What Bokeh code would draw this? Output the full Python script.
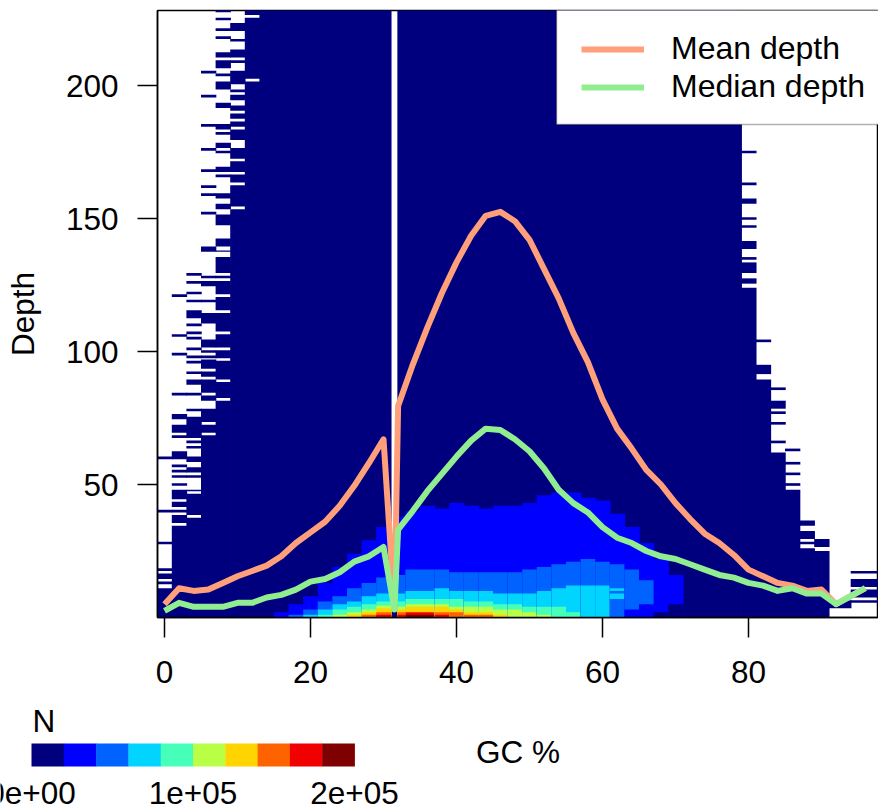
from bokeh.embed import file_html
from bokeh.resources import INLINE
from bokeh.plotting import figure
from bokeh.models import (ColumnDataSource, FixedTicker, Range1d, Legend, LegendItem,
                          BoxAnnotation, Label)

FONT = "Liberation Sans"
FS = "31.5px"

# ---------- data ----------
palette = ["#00007F", "#0000FF", "#0063FF", "#00D4FF", "#46FFB8",
           "#B8FF46", "#FFD400", "#FF6300", "#F10000", "#7F0000"]
key_breaks = [0, 20000, 40000, 60000, 80000, 100000, 120000, 140000, 160000, 180000, 200000]
key_ticks = [0, 100000, 200000]
key_tick_labels = ["0e+00", "1e+05", "2e+05"]
x_ticks = [0, 20, 40, 60, 80]
y_ticks = [50, 100, 150, 200]

mean_gc = [0, 2, 4, 6, 8, 10, 12, 14, 16, 18, 20, 22, 24, 26, 28, 30, 31.5, 32, 34, 36, 38, 40, 42, 44, 46,
           48, 50, 52, 54, 56, 58, 60, 62, 64, 66, 68, 70, 72, 74, 76, 78, 80, 82, 84, 86, 88, 90, 92, 96]
mean_depth = [5, 11, 10, 10.5, 13, 15.5, 17.5, 19.5, 23, 28, 32, 36, 42, 49.5, 58, 67, 4, 79.5, 95, 109, 122,
              133.5, 143.5, 151, 152.5, 149, 142, 131, 120, 107, 96, 82, 71, 63.5, 55.5, 50, 43, 37, 31.5, 28,
              23.5, 18, 15.5, 13, 12, 10, 10.5, 5, 11]
median_depth = [2.5, 5.5, 4, 4, 4, 5.5, 5.5, 7.5, 8.5, 10.5, 13.5, 14.5, 17, 21, 23, 26.5, 3, 33, 40, 47.5, 54,
                60.5, 66.5, 71, 70.5, 67, 62.5, 56, 48, 43, 39.5, 34, 30, 28, 25, 23, 22, 20, 18, 16, 15, 13, 12,
                10, 11, 9, 9, 5, 11]

# Navy (lowest class) cells: (left, right, isolated rows, contiguous up to, rows missing below that)
navy_columns = [
    (-1, 1, [60, 40, 28, 18, 16, 15, 13], 11, []),
    (1, 3, [121, 106, 99, 84, 76, 75, 72, 71, 70, 68, 62, 61, 60, 57, 55, 53, 50], 48, [44, 41, 39, 35]),
    (3, 5, [129, 126, 122, 119, 115, 114, 113, 110, 107, 105, 101, 98, 96, 92, 89, 88, 84, 78, 75, 74, 73, 72, 71,
            70, 69, 68, 66, 64, 60, 59, 56, 55, 53], 48, [47, 38]),
    (5, 7, [205, 196, 185, 176, 168, 162, 159, 152, 139, 138, 128, 126, 125, 119, 114, 113, 112, 111, 104, 103,
            102, 100, 98], 97, [93, 90, 84, 81, 80, 79, 73, 69]),
    (7, 9, [228, 225, 221, 218, 212, 211, 209, 208, 207, 204, 201, 200, 199, 193, 192, 185, 184, 182, 178, 177,
            175, 169, 168, 166, 159, 158, 155, 154, 151, 150, 149, 148, 142, 141, 140], 138,
     [137, 136, 129, 127, 121, 115, 107, 101, 97, 89, 82]),
    (9, 11, [], 229, [228, 227, 226, 225, 224, 220, 219, 218, 216, 215, 214, 210, 208, 207, 206, 200, 199, 197,
                      194, 193, 190, 187, 184, 179, 178, 177, 172, 167, 163, 154]),
    (11, 13, [], 229, [226, 202]),
    (13, 31, [], 229, []),
    (31, 31.9, [], 4.5, []),
    (31.9, 79, [], 229, []),
    (79, 81, [175, 163, 157, 156, 150, 147, 141, 140, 139, 135, 133, 132, 131, 130, 127, 126], 124, []),
    (81, 83, [104], 95, [91, 90]),
    (83, 85, [86, 81, 80, 79, 77, 73, 66], 62, []),
    (85, 87, [63, 58, 54, 50], 48, []),
    (87, 89, [36, 35, 32, 31, 30, 28], 26, []),
    (89, 91, [29, 28, 27], 25, []),
    (91, 94, [6, 5, 4], 0, []),
    (94, 99, [17, 14, 13, 12, 10, 9, 8, 6], 0, []),
]

# Other classes, per GC bin, bottom to top: (class, depth reached)
stacks = [
    (15, 17, [(1, 2)]),
    (17, 19, [(2, 1), (1, 5)]),
    (19, 21, [(3, 1), (2, 3), (1, 8)]),
    (21, 23, [(4, 1), (3, 3), (2, 6), (1, 13)]),
    (23, 25, [(5, 1), (4, 3), (3, 5), (2, 8), (1, 19)]),
    (25, 27, [(6, 1), (5, 2), (4, 4), (3, 6), (2, 11), (1, 24)]),
    (27, 29, [(7, 1), (6, 2), (5, 3), (4, 5), (3, 8), (2, 13), (1, 29)]),
    (29, 31, [(8, 1), (7, 2), (6, 3.5), (5, 4.5), (4, 6), (3, 9), (2, 15), (1, 34)]),
    (31.9, 33, [(8, 1), (7, 2), (6, 3), (5, 4), (4, 6), (3, 9), (2, 16), (1, 38)]),
    (33, 35, [(9, 1), (8, 2), (6, 4), (5, 5), (4, 7), (3, 10), (2, 18), (1, 40)]),
    (35, 37, [(9, 1), (8, 2), (6, 4), (5, 5), (4, 7), (3, 10), (2, 18), (1, 42)]),
    (37, 39, [(8, 1), (7, 2), (6, 4), (5, 5), (4, 7), (3, 11), (2, 18), (1, 41)]),
    (39, 41, [(7, 2), (6, 3), (5, 4), (4, 7), (3, 10), (2, 17), (1, 43)]),
    (41, 43, [(7, 1), (6, 2), (5, 4), (4, 6), (3, 10), (2, 17), (1, 42)]),
    (43, 45, [(7, 1), (6, 2), (5, 4), (4, 6), (3, 10), (2, 17), (1, 41)]),
    (45, 47, [(6, 1), (5, 3), (4, 5), (3, 9), (2, 17), (1, 42)]),
    (47, 49, [(5, 3), (4, 5), (3, 9), (2, 17), (1, 42)]),
    (49, 51, [(5, 2), (4, 4), (3, 9), (2, 18), (1, 43)]),
    (51, 53, [(5, 1), (4, 4), (3, 10), (2, 19), (1, 46)]),
    (53, 55, [(4, 4), (3, 11), (2, 20), (1, 47)]),
    (55, 57, [(4, 2), (3, 12), (2, 21), (1, 47)]),
    (57, 59, [(3, 12), (2, 22), (1, 45)]),
    (59, 61, [(3, 12), (2, 21), (1, 44)]),
    (61, 63, [(2, 7), (3, 9), (2, 10), (3, 11), (2, 20), (1, 39)]),
    (63, 65, [(1, 3), (2, 18), (1, 34)]),
    (65, 67, [(1, 5), (2, 14), (1, 28)]),
    (67, 69, [(0, 2), (1, 22)]),
    (69, 71, [(0, 5), (1, 16)]),
]

# ---------- page geometry (pixels) ----------
W, H = 878, 812
TOP_H = 700
F_L, F_T, F_B = 157, 10, 617
X0_PX, PX_PER_GC = 164.0, 7.3
PX_PER_DEPTH = 2.66
OVERLAP = 0.1  # closes anti-aliasing seams between neighbouring columns


def dx(px):
    return (px - X0_PX) / PX_PER_GC


def dy(py):
    return (F_B - py) / PX_PER_DEPTH


# ---------- cells ----------
L, R, B, T, C = [], [], [], [], []


def add(l, r, b, t, k):
    L.append(l); R.append(r + OVERLAP); B.append(b); T.append(t); C.append(palette[k])


for l, r, rows, full, missing in navy_columns:
    spans = [(d - 0.5, d + 0.5) for d in rows]
    start = 0
    for d in sorted(missing):
        spans.append((start, d - 0.5))
        start = d + 0.5
    if full > start:
        spans.append((start, full))
    spans.sort()
    merged = []
    for b, t in spans:
        if merged and b <= merged[-1][1] + 1e-9:
            merged[-1][1] = max(merged[-1][1], t)
        else:
            merged.append([b, t])
    for b, t in merged:
        add(l, r, b, t, 0)

for l, r, stack in stacks:
    # painted from the tallest down, so that no seam shows between classes
    for k, top in reversed(stack):
        add(l, r, 0, top, k)

p = figure(width=W, height=TOP_H, output_backend="svg", toolbar_location=None,
           x_range=Range1d(dx(F_L), dx(W)), y_range=Range1d(0, dy(F_T)),
           min_border_left=F_L, min_border_right=0, min_border_top=F_T, min_border_bottom=TOP_H - F_B,
           y_axis_label="Depth")
p.grid.visible = False
p.background_fill_color = "white"
p.outline_line_color = "black"
p.outline_line_width = 1.5

src = ColumnDataSource(dict(left=L, right=R, bottom=B, top=T, color=C))
p.quad(left="left", right="right", bottom="bottom", top="top", fill_color="color",
       line_color=None, source=src)

mean_r = p.line(mean_gc, mean_depth, line_color="#FFA07A", line_width=6, line_join="round")
median_r = p.line(mean_gc, median_depth, line_color="#90EE90", line_width=6, line_join="round")

for ax, ticks in ((p.xaxis[0], x_ticks), (p.yaxis[0], y_ticks)):
    ax.ticker = FixedTicker(ticks=ticks)
    ax.major_tick_in = 0
    ax.major_tick_out = 20
    ax.minor_tick_out = 0
    ax.minor_tick_in = 0
    ax.major_tick_line_color = "black"
    ax.major_tick_line_width = 1.5
    ax.axis_line_color = "black"
    ax.axis_line_width = 1.5
    ax.major_label_text_font = FONT
    ax.major_label_text_font_size = FS
    ax.major_label_text_color = "black"
    ax.axis_label_text_font = FONT
    ax.axis_label_text_font_size = FS
    ax.axis_label_text_font_style = "normal"
    ax.axis_label_text_color = "black"
p.xaxis[0].major_label_standoff = 23
p.yaxis[0].major_label_standoff = 19
p.yaxis[0].major_label_orientation = "horizontal"
p.yaxis[0].axis_label_standoff = 22

# the legend's box, drawn apart because the box runs off the page's right edge
p.add_layout(BoxAnnotation(left=dx(556), right=dx(W + 30), bottom=dy(124), top=dy(F_T - 10),
                           fill_color="white", fill_alpha=1, line_color="black", line_width=1.5))
legend = Legend(items=[LegendItem(label="Mean depth", renderers=[mean_r]),
                       LegendItem(label="Median depth", renderers=[median_r])],
                location=(582 - 1 - F_L, F_B - 124 + 19), orientation="vertical",
                padding=20, spacing=1, margin=0, glyph_width=63, glyph_height=24, label_height=24,
                label_standoff=27, label_text_font=FONT, label_text_font_size="32px",
                label_text_color="black", border_line_color=None, background_fill_alpha=0.0)
p.add_layout(legend)

# ---------- colour key under the plot: the frame fills this whole lower figure ----------
KEY_PX_L, KEY_PX_R = 31.0, 354.0
n_per_px = (key_breaks[-1] - key_breaks[0]) / (KEY_PX_R - KEY_PX_L)
KH = H - TOP_H


def ky(py):
    return H - py


k = figure(width=W, height=KH, output_backend="svg", toolbar_location=None,
           x_range=Range1d(-KEY_PX_L * n_per_px, (W - KEY_PX_L) * n_per_px),
           y_range=Range1d(0, KH), x_axis_location=None, y_axis_location=None,
           min_border_left=0, min_border_right=0, min_border_top=0, min_border_bottom=0,
           outline_line_color=None)
k.grid.visible = False
k.quad(left=key_breaks[:-1], right=[b + 250 for b in key_breaks[1:]], bottom=ky(766), top=ky(743),
       fill_color=palette, line_color=None)
for tick, lab in zip(key_ticks, key_tick_labels):
    k.add_layout(Label(x=tick, y=ky(792), text=lab, text_font=FONT, text_font_size=FS,
                       text_align="center", text_baseline="middle", text_color="black"))
k.add_layout(Label(x=(32 - KEY_PX_L) * n_per_px, y=ky(720), text="N", text_font=FONT, text_font_size=FS,
                   text_align="left", text_baseline="middle", text_color="black"))
k.add_layout(Label(x=(517.5 - KEY_PX_L) * n_per_px, y=ky(751), text="GC %", text_font=FONT, text_font_size=FS,
                   text_align="center", text_baseline="middle", text_color="black"))

open("out.html", "w").write(file_html([p, k], INLINE))
